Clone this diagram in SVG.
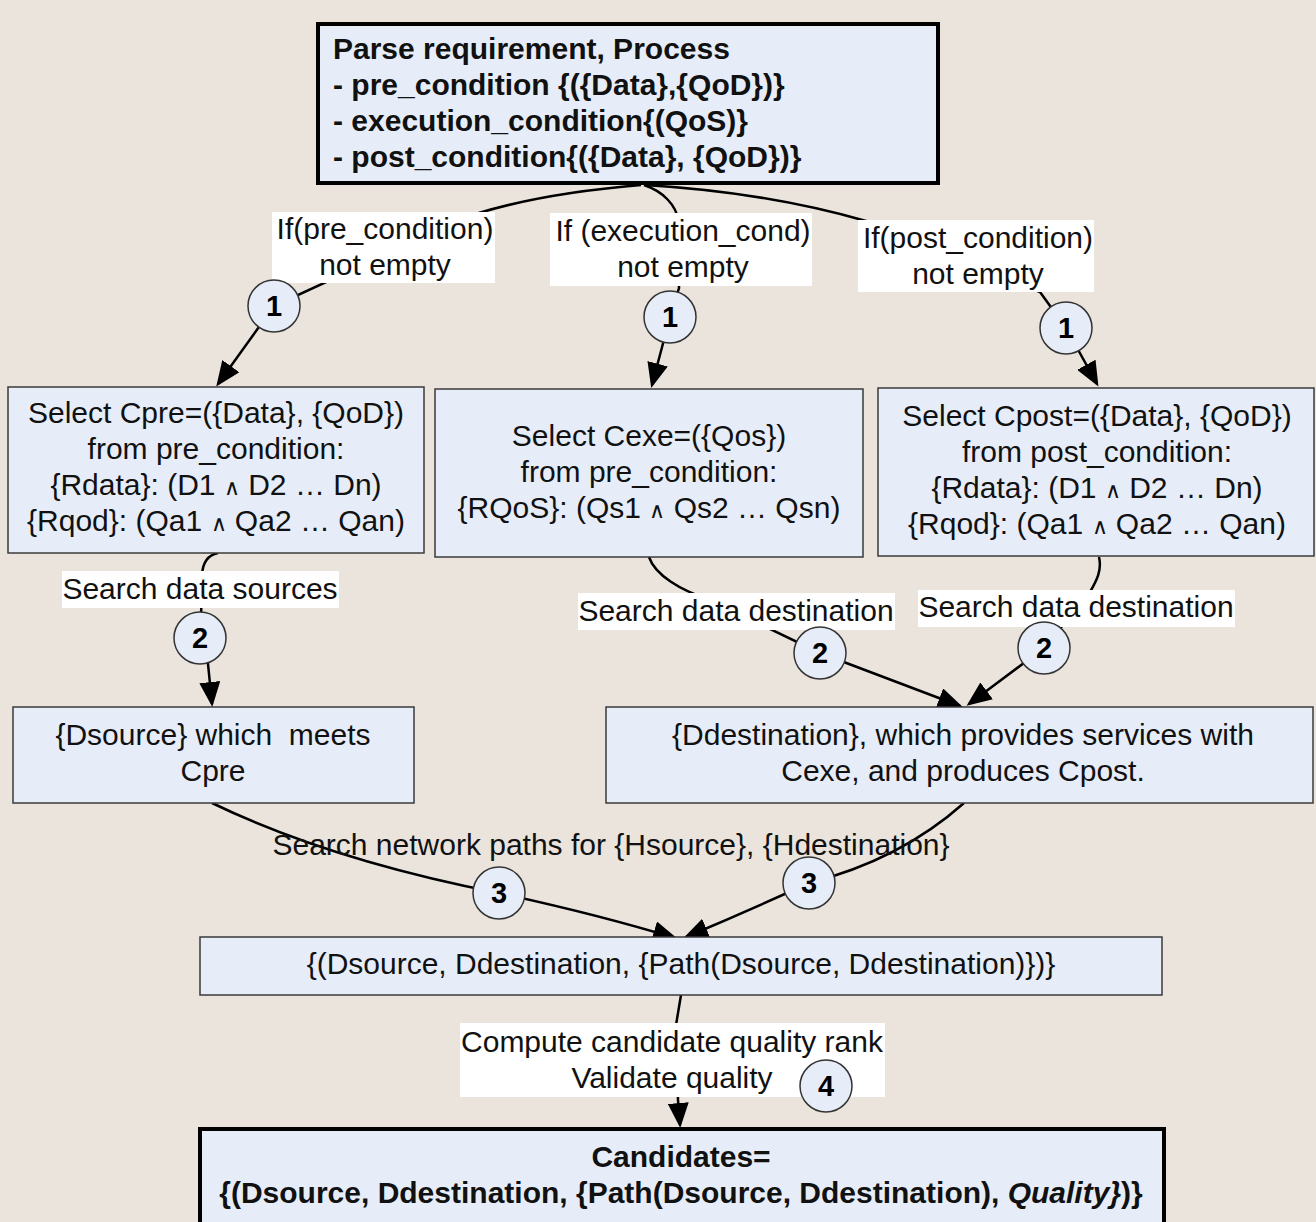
<svg xmlns="http://www.w3.org/2000/svg" width="1316" height="1222" viewBox="0 0 1316 1222">
<defs>
<style>
.bg{fill:#EAE4DD}
.box{fill:#E6EDF8;stroke:#3A3A3A;stroke-width:1.5}
.bbox{fill:#E6EDF8;stroke:#000;stroke-width:4}
.t{font-family:"Liberation Sans",Arial,sans-serif;font-size:30px;fill:#111}
.c{text-anchor:middle}
.b{font-weight:bold}
.and{font-size:22px}
.lbl{fill:#FFFFFF}
.edge{fill:none;stroke:#000;stroke-width:2.5;marker-end:url(#ah)}
.circ{fill:#E6EDF8;stroke:#333;stroke-width:1.5}
.num{font-family:"Liberation Sans",Arial,sans-serif;font-size:29px;font-weight:bold;text-anchor:middle;fill:#000}
</style>
<marker id="ah" markerUnits="userSpaceOnUse" markerWidth="25" markerHeight="21" refX="22" refY="10.5" orient="auto">
<path d="M0,0 L25,10.5 L0,21 z" fill="#000"/>
</marker>
</defs>
<rect class="bg" x="0" y="0" width="1316" height="1222"/>

<g id="connectors">
<path class="edge" d="M641,185 C545,193 455,212 400,248 L274,306 L218,384"/>
<path class="edge" d="M644,185 C662,191 676,204 679,222 L679,288 L670,317 L652,385"/>
<path class="edge" d="M645,185 C730,190 800,202 866,221 L1040,292 L1066,328 L1097,384"/>
<path class="edge" d="M218,553 Q203,556 202,575 L201,620 L208,664 L212,704"/>
<path class="edge" d="M649,557 C655,575 680,590 710,600 L820,653 L960,706"/>
<path class="edge" d="M1099,557 C1102,570 1097,580 1090,592 L1044,648 L969,704"/>
<path class="edge" d="M212,803 Q330,860 499,893 Q600,915 675,938"/>
<path class="edge" d="M964,803 Q900,860 809,883 Q750,910 686,937"/>
<path class="edge" d="M681,995 L676,1025 L678,1100 L680,1125"/>
</g>

<g id="label-pre">
<rect class="lbl" x="272" y="212" width="223" height="71"/>
<text class="t c" x="385" y="239">If(pre_condition)</text>
<text class="t c" x="385" y="275">not empty</text>
</g>
<g id="label-exe">
<rect class="lbl" x="550" y="213" width="262" height="73"/>
<text class="t c" x="683" y="241">If (execution_cond)</text>
<text class="t c" x="683" y="277">not empty</text>
</g>
<g id="label-post">
<rect class="lbl" x="858" y="220" width="236" height="72"/>
<text class="t c" x="978" y="248">If(post_condition)</text>
<text class="t c" x="978" y="284">not empty</text>
</g>
<g id="label-src">
<rect class="lbl" x="62" y="571" width="277" height="37"/>
<text class="t c" x="200" y="599">Search data sources</text>
</g>
<g id="label-dst1">
<rect class="lbl" x="578" y="593" width="317" height="37"/>
<text class="t c" x="736" y="621">Search data destination</text>
</g>
<g id="label-dst2">
<rect class="lbl" x="918" y="590" width="317" height="37"/>
<text class="t c" x="1076" y="617">Search data destination</text>
</g>
<g id="label-net">
<text class="t c" x="611" y="855">Search network paths for {Hsource}, {Hdestination}</text>
</g>
<g id="label-rank">
<rect class="lbl" x="460" y="1023" width="425" height="74"/>
<text class="t c" x="672" y="1052">Compute candidate quality rank</text>
<text class="t c" x="672" y="1088">Validate quality</text>
</g>

<g id="step-1a"><circle class="circ" cx="274" cy="306" r="26"/><text class="num" x="274" y="316">1</text></g>
<g id="step-1b"><circle class="circ" cx="670" cy="317" r="26"/><text class="num" x="670" y="327">1</text></g>
<g id="step-1c"><circle class="circ" cx="1066" cy="328" r="26"/><text class="num" x="1066" y="338">1</text></g>
<g id="step-2a"><circle class="circ" cx="200" cy="638" r="26"/><text class="num" x="200" y="648">2</text></g>
<g id="step-2b"><circle class="circ" cx="820" cy="653" r="26"/><text class="num" x="820" y="663">2</text></g>
<g id="step-2c"><circle class="circ" cx="1044" cy="648" r="26"/><text class="num" x="1044" y="658">2</text></g>
<g id="step-3a"><circle class="circ" cx="499" cy="893" r="26"/><text class="num" x="499" y="903">3</text></g>
<g id="step-3b"><circle class="circ" cx="809" cy="883" r="26"/><text class="num" x="809" y="893">3</text></g>
<g id="step-4"><circle class="circ" cx="826" cy="1086" r="26"/><text class="num" x="826" y="1096">4</text></g>

<g id="node-parse">
<rect class="bbox" x="318" y="24" width="620" height="159"/>
<text class="t b" x="333" y="59">Parse requirement, Process</text>
<text class="t b" x="333" y="95">- pre_condition {({Data},{QoD})}</text>
<text class="t b" x="333" y="131">- execution_condition{(QoS)}</text>
<text class="t b" x="333" y="167">- post_condition{({Data}, {QoD})}</text>
</g>

<g id="node-cpre">
<rect class="box" x="8" y="387" width="416" height="166"/>
<text class="t c" x="216" y="423">Select Cpre=({Data}, {QoD})</text>
<text class="t c" x="216" y="459">from pre_condition:</text>
<text class="t c" x="216" y="495">{Rdata}: (D1 <tspan class="and">∧</tspan> D2 … Dn)</text>
<text class="t c" x="216" y="531">{Rqod}: (Qa1 <tspan class="and">∧</tspan> Qa2 … Qan)</text>
</g>

<g id="node-cexe">
<rect class="box" x="435" y="389" width="428" height="168"/>
<text class="t c" x="649" y="446">Select Cexe=({Qos})</text>
<text class="t c" x="649" y="482">from pre_condition:</text>
<text class="t c" x="649" y="518">{RQoS}: (Qs1 <tspan class="and">∧</tspan> Qs2 … Qsn)</text>
</g>

<g id="node-cpost">
<rect class="box" x="878" y="388" width="436" height="168"/>
<text class="t c" x="1097" y="426">Select Cpost=({Data}, {QoD})</text>
<text class="t c" x="1097" y="462">from post_condition:</text>
<text class="t c" x="1097" y="498">{Rdata}: (D1 <tspan class="and">∧</tspan> D2 … Dn)</text>
<text class="t c" x="1097" y="534">{Rqod}: (Qa1 <tspan class="and">∧</tspan> Qa2 … Qan)</text>
</g>

<g id="node-dsource">
<rect class="box" x="13" y="707" width="401" height="96"/>
<text class="t c" x="213" y="745" xml:space="preserve">{Dsource} which  meets</text>
<text class="t c" x="213" y="781">Cpre</text>
</g>

<g id="node-ddest">
<rect class="box" x="606" y="707" width="707" height="96"/>
<text class="t c" x="963" y="745">{Ddestination}, which provides services with</text>
<text class="t c" x="963" y="781">Cexe, and produces Cpost.</text>
</g>

<g id="node-path">
<rect class="box" x="200" y="937" width="962" height="58"/>
<text class="t c" x="681" y="974">{(Dsource, Ddestination, {Path(Dsource, Ddestination)})}</text>
</g>

<g id="node-candidates">
<rect class="bbox" x="200" y="1129" width="964" height="110"/>
<text class="t b c" x="681" y="1167">Candidates=</text>
<text class="t b c" x="681" y="1203">{(Dsource, Ddestination, {Path(Dsource, Ddestination), <tspan font-style="italic">Quality}</tspan>)}</text>
</g>
</svg>
